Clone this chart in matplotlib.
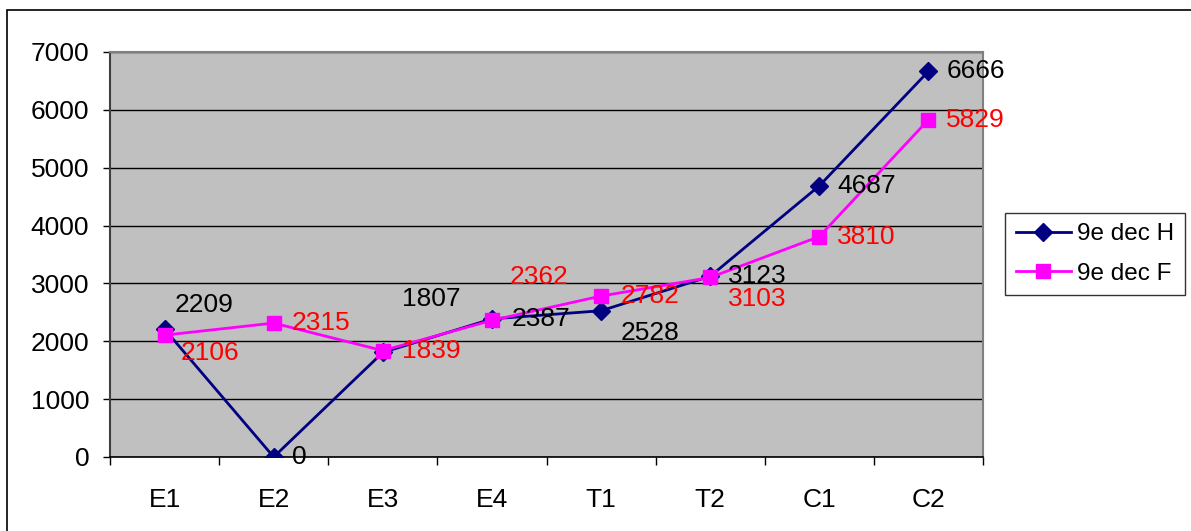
import matplotlib.pyplot as plt
from matplotlib.patches import Rectangle

plt.rcParams['font.family'] = ['Liberation Sans', 'DejaVu Sans']

categories = ['E1', 'E2', 'E3', 'E4', 'T1', 'T2', 'C1', 'C2']
dec_h = [2209, 0, 1807, 2387, 2528, 3123, 4687, 6666]
dec_f = [2106, 2315, 1839, 2362, 2782, 3103, 3810, 5829]

# label offsets in pixels, one per point
off_h = [(10, 24), (18, 0), (19, 53), (20, 0), (20, -22), (18, 0), (18, 0), (18, 0)]
off_f = [(16, -18), (18, 0), (19, 0), (18, 43), (20, 0), (18, -22), (18, 0), (18, 0)]

fs = 19

fig = plt.figure(figsize=(11.91, 5.31), dpi=100)
ax = fig.add_axes([110 / 1191, 1 - 457 / 531, 873 / 1191, 405 / 531])
ax.set_facecolor('#c0c0c0')

x = list(range(len(categories)))
ax.plot(x, dec_h, color='#000080', lw=2, marker='D', ms=9.5, label='9e dec H', zorder=3)
ax.plot(x, dec_f, color='#ff00ff', lw=2, marker='s', ms=10, label='9e dec F', zorder=4)

for i in x:
    ax.annotate(str(dec_h[i]), (i, dec_h[i]), xytext=off_h[i], textcoords='offset pixels',
                ha='left', va='center', fontsize=fs, color='black', zorder=5)
    ax.annotate(str(dec_f[i]), (i, dec_f[i]), xytext=off_f[i], textcoords='offset pixels',
                ha='left', va='center', fontsize=fs, color='red', zorder=5)

ax.set_xlim(-0.5, len(categories) - 0.5)
ax.set_ylim(0, 7000)
ax.set_yticks(range(0, 7001, 1000))
ax.yaxis.grid(True, color='black', lw=1)
ax.set_axisbelow(True)
ax.set_xticks(x)
ax.set_xticklabels(categories)
ax.set_xticks([i - 0.5 for i in range(len(categories) + 1)], minor=True)
ax.tick_params(axis='x', which='major', length=0, pad=22, labelsize=fs)
ax.tick_params(axis='x', which='minor', length=6, width=1, direction='out')
ax.tick_params(axis='y', length=5, width=1, pad=10, labelsize=fs)

for side in ['top', 'right']:
    ax.spines[side].set_color('#808080')
    ax.spines[side].set_linewidth(1.5)
ax.spines['left'].set_color('#404040')
ax.spines['left'].set_linewidth(1.5)
ax.spines['bottom'].set_color('black')
ax.spines['bottom'].set_linewidth(1.2)

leg = fig.legend(loc='center left', bbox_to_anchor=(1005 / 1191, 1 - 254 / 531),
                 fontsize=17.5, frameon=True, fancybox=False, edgecolor='black',
                 handlelength=2.25, borderpad=0.45, labelspacing=0.7, handletextpad=0.25,
                 borderaxespad=0)
leg.get_frame().set_linewidth(1)

# outer chart border
fig.patches.append(Rectangle((7 / 1191, -0.1), 1.2, 1.1 - 10 / 531,
                             transform=fig.transFigure, fill=False,
                             edgecolor='black', lw=1.2))

fig.savefig('out.png', dpi=100)
